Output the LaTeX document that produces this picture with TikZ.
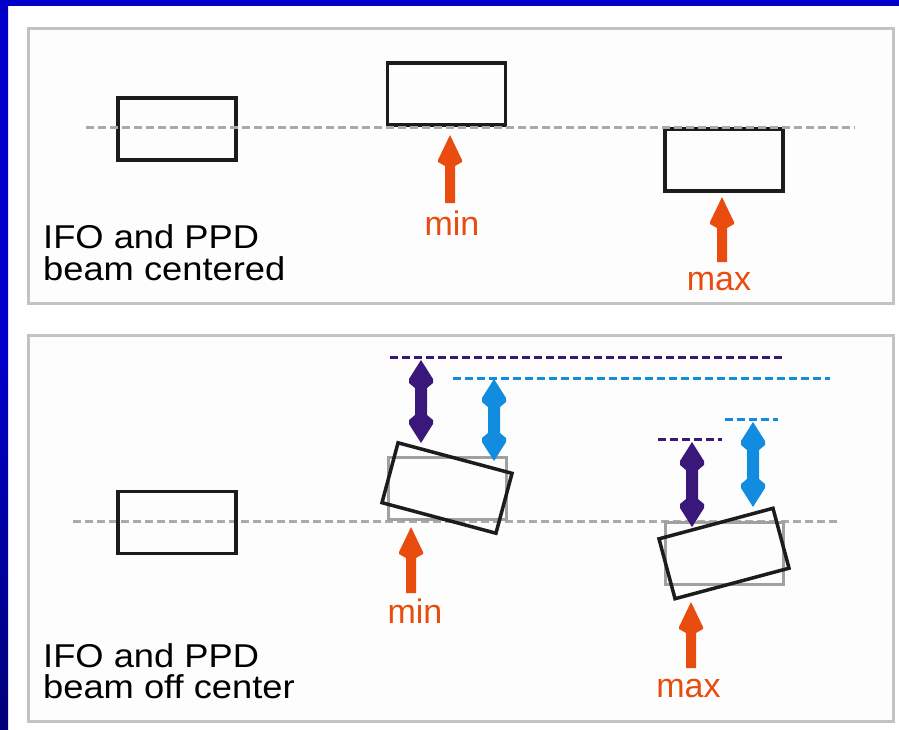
\documentclass[tikz,border=0pt]{standalone}
\usepackage{fontspec}
\setmainfont{Liberation Sans}

\definecolor{frameblue}{RGB}{0,0,200}
\definecolor{framenavy}{RGB}{0,0,120}
\definecolor{panelline}{RGB}{195,195,195}
\definecolor{panelfill}{RGB}{253,253,253}
\definecolor{axisgray}{RGB}{170,170,170}
\definecolor{refgray}{RGB}{160,160,160}
\definecolor{edgeblack}{RGB}{28,28,28}
\definecolor{markorange}{RGB}{232,76,14}
\definecolor{dpurple}{RGB}{58,24,122}
\definecolor{dblue}{RGB}{18,140,222}

% filled up-pointing arrow: colour, x, tip y, tail y
\newcommand\UpArrowShape[4]{%
  \fill[#1] (#2,#3) -- ({#2+12},{#3+25}) -- ({#2+12},{#3+27}) -- ({#2+5},{#3+31})
    -- ({#2+5},#4) -- ({#2-5},#4) -- ({#2-5},{#3+31}) -- ({#2-12},{#3+27})
    -- ({#2-12},{#3+25}) -- cycle;}
% filled double-headed vertical arrow: colour, x, top tip y, bottom tip y
\newcommand\BothArrowShape[4]{%
  \fill[#1] (#2,#3) -- ({#2+12},{#3+19}) -- ({#2+12},{#3+23}) -- ({#2+6},{#3+28})
    -- ({#2+6},{#4-28}) -- ({#2+12},{#4-23}) -- ({#2+12},{#4-19}) -- (#2,#4)
    -- ({#2-12},{#4-19}) -- ({#2-12},{#4-23}) -- ({#2-6},{#4-28})
    -- ({#2-6},{#3+28}) -- ({#2-12},{#3+23}) -- ({#2-12},{#3+19}) -- cycle;}

\tikzset{
  panel/.style={draw=panelline, fill=panelfill, line width=3pt},
  axis/.style={draw=axisgray, line width=3pt, dash pattern=on 8pt off 4pt},
  level/.style={line width=3pt, dash pattern=on 8pt off 4pt},
  plate/.style={draw=edgeblack, line width=3.5pt, minimum width=118pt,
    minimum height=62pt, inner sep=0pt, outer sep=0pt},
  ghost/.style={draw=refgray, line width=3pt, minimum width=118pt,
    minimum height=62pt, inner sep=0pt, outer sep=0pt},
  caption/.style={inner sep=0pt, anchor=base west, text=black,
    font=\fontsize{33}{33}\selectfont},
  extremum/.style={inner sep=0pt, anchor=base, text=markorange,
    font=\fontsize{34}{34}\selectfont},
}

\begin{document}
\begin{tikzpicture}[x=1pt,y=-1pt]
\useasboundingbox (0,0) rectangle (899,729);
% slide background and frame strips
\fill[white] (0,0) rectangle (899,729);
\fill[frameblue] (0,0) rectangle (899,6);
\shade[top color=frameblue, bottom color=framenavy, middle color=frameblue]
  (0,0) rectangle (8,729);

% ---------- upper panel: beam centred ----------
\draw[panel] (28.5,28.5) rectangle (893,303);
\node[plate] (c1) at (177,129) {};
\node[plate] (c2) at (446.5,94) {};
\node[plate] (c3) at (724,160) {};
\coordinate (a1w) at (86,127);
\coordinate (a1e) at (855,127);
\draw[axis] (a1w) -- (a1e);

\UpArrowShape{markorange}{450}{135}{203}
\node[extremum] (min1) at (452,235) {min};
\UpArrowShape{markorange}{722}{197}{262}
\node[extremum] (max1) at (719,290) {max};

\node[caption] (cap1a) at (43,248) {\scalebox{1.1}[1]{IFO and PPD}};
\node[caption] (cap1b) at (43,280) {\scalebox{1.1}[1]{beam centered}};

% ---------- lower panel: beam off centre ----------
\draw[panel] (28.5,335) rectangle (893,721);
\coordinate (a2w) at (73,521);
\coordinate (a2e) at (840,521);
\draw[axis] (a2w) -- (a2e);
\node[plate] (o1) at (177,522.5) {};

% tilted plate at the minimum
\node[ghost] (g1) at (447,488) {};
\node[plate, rotate=-15] (t1) at (447,488) {};
% tilted plate at the maximum
\node[ghost] (g2) at (724.5,553.5) {};
\node[plate, rotate=15] (t2) at (724,553.5) {};

% reference levels
\coordinate (p1w) at (390,357);
\coordinate (p1e) at (785,357);
\draw[level, draw=dpurple] (p1w) -- (p1e);
\coordinate (b1w) at (453,378);
\coordinate (b1e) at (830,378);
\draw[level, draw=dblue] (b1w) -- (b1e);
\coordinate (p2w) at (658,439);
\coordinate (p2e) at (722,439);
\draw[level, draw=dpurple] (p2w) -- (p2e);
\coordinate (b2w) at (725,419);
\coordinate (b2e) at (778,419);
\draw[level, draw=dblue] (b2w) -- (b2e);

\BothArrowShape{dpurple}{421}{360}{443}
\BothArrowShape{dblue}{494}{379}{461}
\BothArrowShape{dpurple}{692}{442}{527}
\BothArrowShape{dblue}{753}{422}{507}

\UpArrowShape{markorange}{411}{527}{593}
\node[extremum] (min2) at (415,623) {min};
\UpArrowShape{markorange}{691}{602}{668}
\node[extremum] (max2) at (688.5,697) {max};

\node[caption] (cap2a) at (43,667) {\scalebox{1.1}[1]{IFO and PPD}};
\node[caption] (cap2b) at (43,698) {\scalebox{1.1}[1]{beam off center}};
\end{tikzpicture}
\end{document}
